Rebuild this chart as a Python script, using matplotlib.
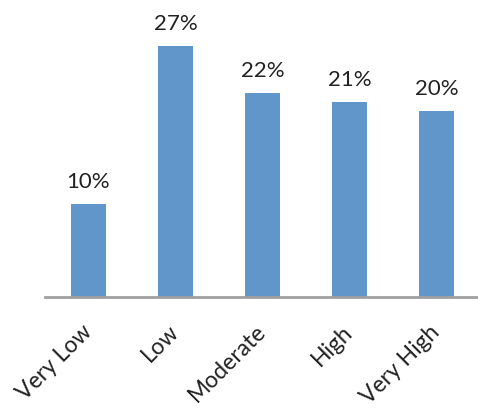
import matplotlib.pyplot as plt
import numpy as np

categories = ["Very Low", "Low", "Moderate", "High", "Very High"]
percent = [10, 27, 22, 21, 20]

plt.rcParams['font.family'] = ['Lato', 'DejaVu Sans']

fig = plt.figure(figsize=(4.78, 4.10), dpi=100)
ax = fig.add_axes([0.094, 0.273, 0.91, 0.68])

x = np.arange(len(categories))
bars = ax.bar(x, percent, 0.41, color="#6096CA")
for b, v in zip(bars, percent):
    ax.text(b.get_x() + b.get_width() / 2, v + 1.4, f"{v}%",
            ha="center", va="bottom", fontsize=16, color="#222222")

ax.set_xlim(-0.5, 4.5)
ax.set_ylim(0, 30)
ax.set_yticks([])
ax.set_xticks(x)
ax.set_xticklabels(categories, rotation=45, ha="right", va="center",
                   rotation_mode="anchor", fontsize=16.5, color="#222222")
ax.tick_params(axis="x", length=0, pad=22)
for side in ["top", "right", "left"]:
    ax.spines[side].set_visible(False)
ax.spines["bottom"].set_color("#A0A0A0")
ax.spines["bottom"].set_linewidth(2)

fig.savefig("out.png", dpi=100)
